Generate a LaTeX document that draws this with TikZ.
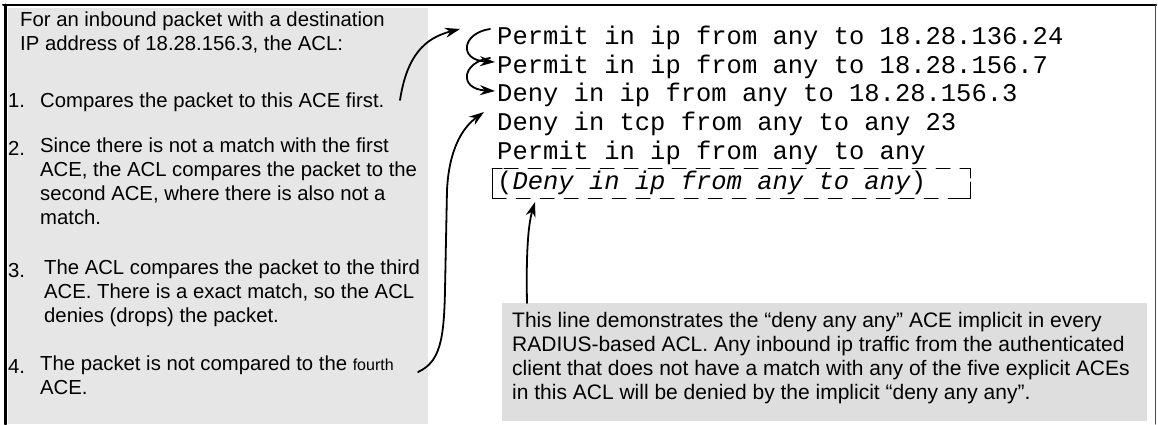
\documentclass[tikz,border=0pt]{standalone}
\usepackage{fontspec}
\setmainfont{Liberation Sans}
\setmonofont{Liberation Mono}
\usetikzlibrary{arrows.meta}
\definecolor{panelgray}{HTML}{E6E6E6}
\definecolor{notegray}{HTML}{DEDEDE}
\newcommand{\notefont}{\fontsize{20.3}{24}\selectfont}
\newcommand{\aclfont}{\ttfamily\fontsize{25.5}{29}\selectfont}
\tikzset{
  note/.style={font=\notefont,align=left,anchor=north west,inner sep=0pt,
    execute at begin node=\strut},
  acl/.style={font=\aclfont,anchor=base west,inner sep=0pt},
  flow/.style={line width=1.8pt,-{Stealth[length=15pt,width=10pt]}},
}
\begin{document}
\begin{tikzpicture}[x=1pt,y=-1pt,line cap=round,line join=round]
\useasboundingbox (0,0) rectangle (1158,424);
% panels and frame
\fill[panelgray] (8,8) rectangle (428,424);
\fill[notegray] (502,303) rectangle (1147,421);
\draw[line width=2pt] (3,5) -- (1156,5);
\draw[line width=3pt] (5,5) -- (5,424);
\draw[line width=1pt,black!70] (1155,5) -- (1155,424);
% steps on the left
\node[note] (intro) at (20,12) {For an inbound packet with a destination\\IP address of 18.28.156.3, the ACL:};
\node[note] (n1) at (8,90) {1.};
\node[note] (t1) at (40,90) {Compares the packet to this ACE first.};
\node[note] (n2) at (8,138) {2.};
\node[note] (t2) at (40,138) {Since there is not a match with the first\\ACE, the ACL compares the packet to the\\second ACE, where there is also not a\\match.};
\node[note] (n3) at (8,260) {3.};
\node[note] (t3) at (44,260) {The ACL compares the packet to the third\\ACE. There is a exact match, so the ACL\\denies (drops) the packet.};
\node[note] (n4) at (8,356) {4.};
\node[note] (t4) at (40,356) {The packet is not compared to the {\fontsize{16}{24}\selectfont fourth}\\ACE.};
% the ACEs
\node[acl] (ace1) at (497,44) {Permit in ip from any to 18.28.136.24};
\node[acl] (ace2) at (497,73) {Permit in ip from any to 18.28.156.7};
\node[acl] (ace3) at (497,101) {Deny in ip from any to 18.28.156.3};
\node[acl] (ace4) at (497,130) {Deny in tcp from any to any 23};
\node[acl] (ace5) at (497,159) {Permit in ip from any to any};
\node[acl] (ace6) at (497,189) {(\textit{Deny in ip from any to any})};
% implicit deny box
\coordinate (bx1) at (492,168);
\coordinate (bx2) at (970,198);
\draw[line width=1pt,dash pattern=on 14pt off 10pt,dash phase=-6pt] (bx1) rectangle (bx2);
\draw[line width=1pt] (bx1 |- 0,178) |- (bx1 -| 502,0);
\draw[line width=1pt] (bx1 |- 0,188) |- (bx2 -| 502,0);
\draw[line width=1pt] (bx2 |- 0,178) |- (bx1 -| 960,0);
\draw[line width=1pt] (bx2 |- 0,188) |- (bx2 -| 960,0);
% note on the right
\node[note,font=\fontsize{21}{24}\selectfont] (implicit) at (512,312) {This line demonstrates the “deny any any” ACE implicit in every\\RADIUS-based ACL. Any inbound ip traffic from the authenticated\\client that does not have a match with any of the five explicit ACEs\\in this ACL will be denied by the implicit “deny any any”.};
% arrows
\coordinate (a1) at (400,100);
\coordinate (a2) at (460,29);
\coordinate (c1s) at (490,29);
\coordinate (c1e) at (495,62);
\coordinate (c2s) at (490,58);
\coordinate (c2e) at (495,91);
\coordinate (d1) at (418,372);
\coordinate (d2) at (484,112);
\coordinate (e1) at (527,303);
\coordinate (e2) at (535,202);
\draw[flow] (a1) .. controls (407,55) and (425,38) .. (a2);
\draw[flow] (c1s) .. controls (462,33) and (458,60) .. (c1e);
\draw[flow] (c2s) .. controls (462,62) and (458,89) .. (c2e);
\draw[flow] (d1) .. controls (440,362) and (444,340) .. (445,290) -- (447,190) .. controls (449,150) and (462,128) .. (d2);
\draw[flow] (e1) .. controls (526,255) and (528,225) .. (e2);
\end{tikzpicture}
\end{document}
